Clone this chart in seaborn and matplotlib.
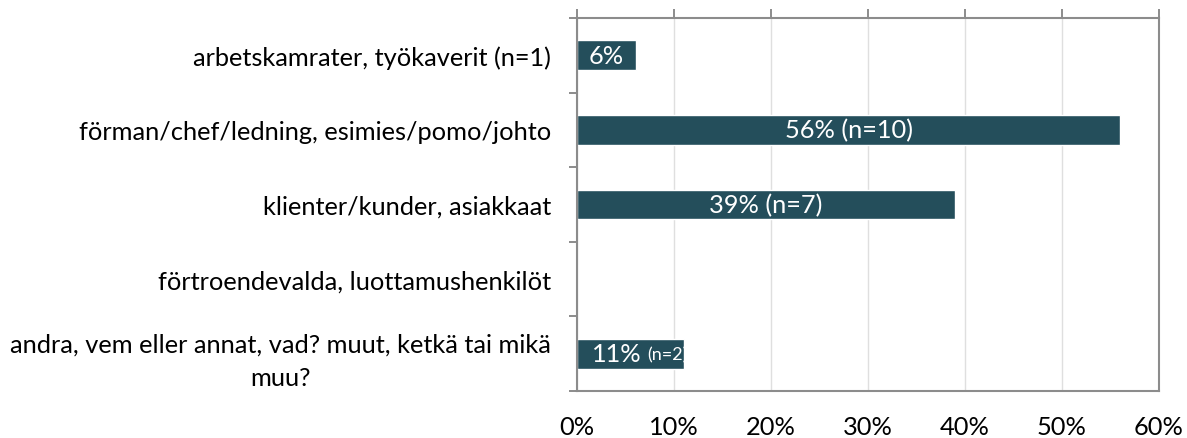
import matplotlib
matplotlib.use("Agg")
import matplotlib.pyplot as plt
import seaborn as sns
from matplotlib.ticker import FixedLocator, FuncFormatter

categories = [
    "arbetskamrater, työkaverit (n=1)",
    "förman/chef/ledning, esimies/pomo/johto",
    "klienter/kunder, asiakkaat",
    "förtroendevalda, luottamushenkilöt",
    "andra, vem eller annat, vad? muut, ketkä tai mikä\nmuu?",
]
values = [6.1, 56.0, 39.0, 0.0, 11.0]
bar_labels = ["6%", "56% (n=10)", "39% (n=7)", "", "11%"]
bar_sublabels = ["", "", "", "", "(n=2)"]
x_ticks = [0, 10, 20, 30, 40, 50, 60]

BAR_COLOR = "#244E5B"
AXIS_COLOR = "#8C8C8C"
GRID_COLOR = "#DFDFDF"
FS = 18.3

sns.set_style("white")
plt.rcParams["font.family"] = ["Lato", "DejaVu Sans"]

fig = plt.figure(figsize=(11.87, 4.39), dpi=100)
ax = fig.add_axes([0.4861, 0.1071, 0.4903, 0.8497])

sns.barplot(x=values, y=categories, color=BAR_COLOR, saturation=1,
            width=0.4, orient="h", ax=ax, zorder=2)

ax.set_xlim(0, 60)
ax.set_ylim(4.5, -0.5)
ax.set_xlabel("")
ax.set_ylabel("")

ax.xaxis.set_major_locator(FixedLocator(x_ticks))
ax.xaxis.set_major_formatter(FuncFormatter(lambda v, p: f"{int(v)}%"))
ax.grid(axis="x", color=GRID_COLOR, linewidth=1.0, zorder=0)
ax.set_axisbelow(True)

ax.tick_params(axis="x", which="major", bottom=False, top=True,
               labelbottom=True, labeltop=False, direction="out",
               length=6.5, width=1.4, color=AXIS_COLOR, pad=11,
               labelsize=FS, labelcolor="black")
ax.tick_params(axis="y", which="major", left=False, length=0, pad=18.5,
               labelsize=FS, labelcolor="black")
ax.set_yticks([i - 0.5 for i in range(len(categories) + 1)], minor=True)
ax.tick_params(axis="y", which="minor", left=True, length=6, width=1.4,
               color=AXIS_COLOR, direction="out")
for lab in ax.get_yticklabels():
    lab.set_multialignment("center")
    lab.set_linespacing(1.55)

for side in ["left", "right", "top", "bottom"]:
    ax.spines[side].set_visible(True)
    ax.spines[side].set_color(AXIS_COLOR)
    ax.spines[side].set_linewidth(1.5)

bars = ax.patches
for i, (v, lab, sub) in enumerate(zip(values, bar_labels, bar_sublabels)):
    if not lab:
        continue
    if sub:
        t1 = ax.annotate(lab, xy=(0, i), xytext=(11, 0),
                         textcoords="offset points", ha="left", va="center",
                         color="white", fontsize=FS)
        t2 = ax.annotate(sub, xy=(1, 0), xycoords=t1, xytext=(4, 2),
                         textcoords="offset points", ha="left", va="bottom",
                         color="white", fontsize=13)
        t1.set_clip_path(bars[i])
        t2.set_clip_path(bars[i])
    else:
        ax.text(v / 2, i, lab, ha="center", va="center",
                color="white", fontsize=FS)

fig.savefig("out.png", dpi=100)
